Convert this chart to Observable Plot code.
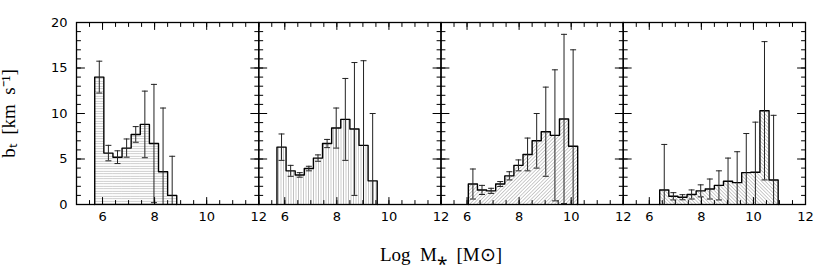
<!DOCTYPE html>
<html><head><meta charset="utf-8">
<script src="https://cdn.jsdelivr.net/npm/d3@7"></script>
<script src="https://cdn.jsdelivr.net/npm/@observablehq/plot@0.6"></script>
<style>body{margin:0;background:#fff}</style>
</head><body><div id="chart"></div>
<script>
// ---- data ----
const panels = ["p1", "p2", "p3", "p4"];
const binWidth = 0.35;
const binStarts = [5.7, 5.7, 6.05, 6.4];

const p1Values = [14.0, 5.65, 5.2, 6.2, 7.7, 8.8, 6.7, 3.6, 1.0];
const p1Errors = [1.75, 0.85, 0.7, 1.0, 0.86, 3.66, 6.5, 7.0, 4.3];

const p2Values = [6.3, 3.7, 3.25, 3.95, 5.1, 6.7, 8.4, 9.35, 8.3, 6.5, 2.6];
const p2Errors = [1.45, 0.6, 0.25, 0.25, 0.35, 0.45, 2.2, 4.5, 7.3, 9.3, 7.4];

const p3Values = [2.25, 1.6, 1.5, 2.25, 3.15, 4.3, 5.5, 7.0, 8.0, 7.6, 9.4, 6.4];
const p3Errors = [1.65, 0.5, 0.28, 0.27, 0.45, 0.6, 1.8, 3.0, 4.9, 7.2, 9.3, 10.6];

const p4Values = [1.6, 0.9, 0.8, 1.1, 1.5, 1.7, 2.1, 2.55, 2.4, 3.5, 3.55, 10.3, 2.7];
const p4Errors = [5.0, 0.4, 0.28, 0.5, 0.66, 1.1, 1.6, 2.55, 3.4, 4.3, 5.5, 7.6, 7.1];

const xMajorTicks = [6, 8, 10, 12];
const yMajorTicks = [0, 5, 10, 15, 20];
const xMinorTicks = d3.range(10, 25).map(d => d / 2);
const yMinorTicks = d3.range(0, 21);
const xTitle = "Log\u2002M\u204E\u2002[M\u2299]";
const yTitle = "b\u209C\u2002[km\u2002s\u207B\u00B9]";

// ---- tables built from the arrays ----
const series = [[p1Values, p1Errors], [p2Values, p2Errors], [p3Values, p3Errors], [p4Values, p4Errors]];
const bins = panels.flatMap((p, i) => series[i][0].map((v, j) => ({
  panel: p,
  x1: binStarts[i] + j * binWidth,
  x2: binStarts[i] + (j + 1) * binWidth,
  xc: binStarts[i] + (j + 0.5) * binWidth,
  y: v,
  lo: Math.max(0, v - series[i][1][j]),
  hi: v + series[i][1][j]
})));
const outline = panels.flatMap(p => {
  const b = bins.filter(d => d.panel === p);
  return [{panel: p, x: b[0].x1, y: 0},
    ...b.flatMap(d => [{panel: p, x: d.x1, y: d.y}, {panel: p, x: d.x2, y: d.y}]),
    {panel: p, x: b[b.length - 1].x2, y: 0}];
});
const caps = bins.flatMap(d => [{panel: d.panel, x: d.xc, y: d.lo}, {panel: d.panel, x: d.xc, y: d.hi}]);
const hatchIds = ["hatch-h", "hatch-v", "hatch-d1", "hatch-d2"];

const capSymbol = {draw(ctx) { ctx.moveTo(-3, 0); ctx.lineTo(3, 0); }};
const tickShape = {draw(ctx, l) { ctx.moveTo(0, 0); ctx.lineTo(0, -l); }};
const xTicks = (anchor, ticks, len) => Plot.vector(ticks, {
  x: d => d, frameAnchor: anchor, rotate: anchor === "bottom" ? 0 : 180,
  length: len, anchor: "start", shape: tickShape, stroke: "black", strokeWidth: 1
});
const yTicks = (anchor, ticks, len) => Plot.vector(ticks, {
  y: d => d, frameAnchor: anchor, rotate: anchor === "left" ? 90 : -90,
  length: len, anchor: "start", shape: tickShape, stroke: "black", strokeWidth: 1
});

const svg = Plot.plot({
  width: 817, height: 273,
  marginLeft: 76, marginRight: 12, marginTop: 22, marginBottom: 69,
  style: {fontFamily: "DejaVu Sans", fontSize: "13px", background: "white", color: "black"},
  fx: {domain: panels, padding: 0, axis: null, round: false},
  x: {domain: [5, 12], label: null},
  y: {domain: [0, 20], label: null},
  marks: [
    ...panels.map((p, i) => Plot.rectY(bins.filter(d => d.panel === p), {fx: "panel", x1: "x1", x2: "x2", y: "y", fill: `url(#${hatchIds[i]})`})),
    Plot.line(outline, {fx: "panel", x: "x", y: "y", z: "panel", stroke: "black", strokeWidth: 1.4}),
    Plot.ruleX(bins, {fx: "panel", x: "xc", y1: "lo", y2: "hi", stroke: "#222", strokeWidth: 1}),
    Plot.dot(caps, {fx: "panel", x: "x", y: "y", symbol: capSymbol, fill: "none", stroke: "#222", strokeWidth: 1}),
    xTicks("bottom", xMinorTicks, 4), xTicks("bottom", xMajorTicks, 7),
    xTicks("top", xMinorTicks, 4), xTicks("top", xMajorTicks, 7),
    yTicks("left", yMinorTicks, 4), yTicks("left", yMajorTicks, 8),
    yTicks("right", yMinorTicks, 4), yTicks("right", yMajorTicks, 8),
    Plot.frame({stroke: "black", strokeWidth: 1.3}),
    Plot.axisX(xMajorTicks, {anchor: "bottom", tickSize: 0, tickPadding: 7, fontSize: 13}),
    Plot.axisY(yMajorTicks, {anchor: "left", tickSize: 0, tickPadding: 9, fontSize: 13}),
    Plot.text([yTitle], {fx: () => panels[0], frameAnchor: "left", dx: -62, rotate: -90, textAnchor: "middle", lineAnchor: "bottom", fontFamily: "Liberation Serif", fontSize: 19, letterSpacing: 1}),
    Plot.text([xTitle], {fx: () => panels[2], frameAnchor: "bottom-left", dy: 56, textAnchor: "middle", lineAnchor: "bottom", fontFamily: "Liberation Serif", fontSize: 19})
  ]
});

// hatch patterns used as fills
const defs = d3.select(svg).insert("defs", ":first-child");
function addPattern(id, rotate) {
  const s = 2.5;
  const pat = defs.append("pattern").attr("id", id).attr("patternUnits", "userSpaceOnUse")
    .attr("width", s).attr("height", 6);
  if (rotate) pat.attr("patternTransform", `rotate(${rotate})`);
  pat.append("line").attr("x1", s / 2).attr("x2", s / 2).attr("y1", 0).attr("y2", 6)
    .attr("stroke", "#a0a0a0").attr("stroke-width", 0.6);
}
addPattern("hatch-h", 90);
addPattern("hatch-v", 0);
addPattern("hatch-d1", 45);
addPattern("hatch-d2", -45);

document.getElementById("chart").append(svg);
</script>
</body></html>
